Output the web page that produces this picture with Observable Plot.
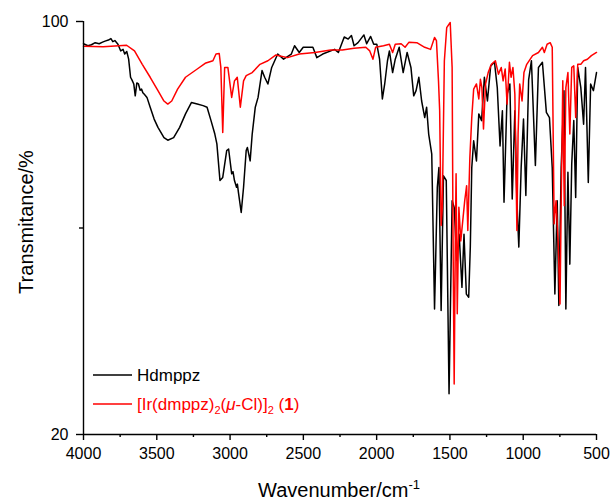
<!DOCTYPE html>
<html>
<head>
<meta charset="utf-8">
<script src="https://cdn.jsdelivr.net/npm/d3@7"></script>
<script src="https://cdn.jsdelivr.net/npm/@observablehq/plot@0.6"></script>
<style>
  body { margin: 0; background: #fff; }
  #chart svg { display: block; }
</style>
</head>
<body>
<div id="chart"></div>
<script>
// FT-IR spectra: free ligand Hdmppz (black) and the chloro-bridged Ir dimer (red)
const ligandWn = [4000,3970,3946,3920,3893,3870,3853,3830,3813,3800,3786,3765,3746,3730,3719,3705,3692,3679,3668,3657,3647,3636,3625,3614,3604,3595,3585,3567,3545,3518,3492,3451,3425,3385,3344,3304,3264,3224,3184,3157,3130,3104,3090,3069,3050,3023,3010,2989,2980,2970,2956,2950,2943,2924,2908,2890,2882,2863,2849,2828,2809,2782,2764,2742,2716,2675,2635,2582,2560,2528,2501,2435,2408,2368,2287,2261,2221,2194,2172,2154,2127,2087,2068,2041,2020,1999,1980,1961,1945,1926,1913,1891,1873,1846,1819,1792,1766,1747,1731,1712,1693,1672,1659,1645,1624,1605,1586,1575,1560,1544,1525,1506,1485,1471,1453,1437,1418,1404,1388,1372,1361,1351,1338,1319,1303,1284,1265,1244,1222,1196,1177,1158,1142,1131,1110,1091,1075,1057,1043,1030,1014,998,982,963,944,917,896,869,842,821,802,784,768,757,741,722,709,695,682,669,655,642,628,607,588,575,556,540,521,500];
const ligandT = [95.7,95.3,95.5,95.9,95.7,96.0,96.2,96.4,96.7,96.1,96.3,95.6,94.3,94.6,93.7,94.2,92.7,89.2,88.6,87.9,85.6,88.1,87.9,86.7,86.9,86.2,85.9,85.3,83.4,81.1,79.5,77.5,77.0,77.5,79.5,82.1,84.3,84.0,83.7,83.4,80.8,78.2,76.3,69.2,69.8,75.0,75.3,70.5,70.9,69.2,67.9,68.5,66.9,63.0,67.9,75.0,75.6,73.0,78.2,83.4,85.3,90.5,89.2,87.9,91.1,93.7,92.7,93.7,95.3,94.0,95.0,95.0,93.0,93.7,94.6,94.0,97.0,96.6,97.3,95.3,95.9,97.4,95.7,97.1,95.6,95.6,92.7,85.0,87.9,92.4,94.3,90.1,92.7,95.0,90.1,94.0,91.1,85.6,86.6,89.2,84.6,81.4,83.4,78.2,74.3,44.3,67.9,71.7,44.0,70.1,69.2,27.9,65.3,64.0,53.7,58.8,48.5,58.8,47.2,46.6,56.3,71.7,76.9,73.0,82.1,80.8,89.2,84.6,91.4,92.1,87.2,75.9,82.7,65.0,85.9,87.9,65.6,82.7,65.3,56.3,71.7,81.1,66.3,88.7,92.4,72.1,91.1,92.1,82.4,81.4,71.7,47.2,65.3,45.0,71.7,86.6,44.3,70.8,53.0,72.4,80.8,65.9,91.1,87.2,80.1,91.1,68.8,87.9,86.6,90.1];

const complexWn = [4000,3866,3759,3706,3652,3599,3545,3492,3451,3425,3398,3358,3304,3224,3170,3117,3096,3074,3063,3050,3037,3015,2989,2970,2951,2930,2908,2890,2849,2796,2742,2689,2608,2528,2421,2314,2234,2154,2074,2047,2025,2007,1953,1913,1891,1873,1833,1806,1779,1726,1672,1632,1605,1592,1578,1570,1560,1552,1538,1522,1498,1485,1479,1471,1463,1458,1450,1439,1426,1410,1399,1386,1378,1364,1351,1338,1319,1303,1292,1282,1271,1257,1239,1217,1190,1169,1150,1137,1123,1110,1094,1083,1070,1057,1043,1035,1024,1008,995,976,936,896,869,856,837,816,802,789,776,762,749,741,730,720,709,695,682,669,655,642,628,607,588,562,535,500];
const complexT = [95.2,95.1,95.3,95.4,94.3,91.7,89.2,86.6,84.6,84.0,84.6,86.9,89.2,90.8,91.9,92.4,93.7,93.8,91.1,78.5,91.1,91.1,85.3,88.5,89.2,83.4,88.5,89.5,90.1,91.7,92.4,93.5,93.0,93.7,94.0,94.5,94.5,94.8,95.0,94.3,92.7,95.0,95.3,95.6,94.0,95.6,95.7,95.0,96.0,95.9,95.0,94.6,96.9,96.3,88.5,82.7,60.5,64.0,92.4,98.8,99.8,91.1,58.8,29.8,58.8,70.5,43.4,64.0,57.5,62.1,65.3,68.2,59.5,73.7,81.4,86.9,87.9,85.0,88.8,87.2,79.2,87.9,90.1,91.7,92.4,89.8,91.1,88.5,90.8,84.0,92.1,89.2,91.1,85.9,59.5,78.2,87.9,84.6,90.1,91.7,93.4,94.0,95.0,94.0,95.6,95.9,95.0,60.8,65.3,57.5,45.3,64.3,88.5,64.3,87.2,90.1,78.2,91.1,91.4,81.4,91.7,91.7,92.4,92.7,93.4,94.0];

const xMajorTicks = [4000,3500,3000,2500,2000,1500,1000,500];
const xMinorTicks = [3750,3250,2750,2250,1750,1250,750];
const yMajorTicks = [20,100];
const yMinorTicks = [60];

const ligand = ligandWn.map((w, i) => ({wn: w, t: ligandT[i]}));
const complex = complexWn.map((w, i) => ({wn: w, t: complexT[i]}));

const FONT = "Arial, 'Liberation Sans', sans-serif";

const chart = Plot.plot({
  width: 616,
  height: 503,
  marginLeft: 83,
  marginRight: 20,
  marginTop: 21,
  marginBottom: 69,
  style: {fontFamily: FONT, fontSize: "16px", color: "#000", background: "#fff", overflow: "visible"},
  x: {domain: [4000, 500]},
  y: {domain: [20, 100]},
  marks: [
    Plot.line(ligand, {x: "wn", y: "t", stroke: "#000", strokeWidth: 1.5}),
    Plot.line(complex, {x: "wn", y: "t", stroke: "#ff0000", strokeWidth: 1.5}),
    Plot.ruleY([20], {stroke: "#000", strokeWidth: 1.4}),
    Plot.ruleX([4000], {stroke: "#000", strokeWidth: 1.4}),
    Plot.axisX({ticks: xMajorTicks, tickSize: 6, tickPadding: 7, tickFormat: d => String(d), label: null, strokeWidth: 1.4, fontSize: 16}),
    Plot.axisX({ticks: xMinorTicks, tickSize: 3, tickFormat: () => "", label: null, strokeWidth: 1.4}),
    Plot.axisY({ticks: yMajorTicks, tickSize: 7, tickPadding: 8, tickFormat: d => String(d), label: null, strokeWidth: 1.4, fontSize: 16}),
    Plot.axisY({ticks: yMinorTicks, tickSize: 4, tickFormat: () => "", label: null, strokeWidth: 1.4})
  ]
});

document.getElementById("chart").appendChild(chart);

// Axis titles and the in-plot legend
const svg = d3.select(chart);
svg.selectAll("text").attr("font-family", FONT);

const xTitle = svg.append("text")
  .attr("x", 339).attr("y", 497)
  .attr("text-anchor", "middle")
  .attr("font-family", FONT).attr("font-size", 20).attr("fill", "#000");
xTitle.append("tspan").text("Wavenumber/cm");
xTitle.append("tspan").attr("font-size", 13).attr("dy", -8).text("-1");

svg.append("text")
  .attr("transform", "translate(33,222) rotate(-90)")
  .attr("text-anchor", "middle")
  .attr("font-family", FONT).attr("font-size", 20).attr("fill", "#000")
  .text("Transmitance/%");

const legend = svg.append("g")
  .attr("font-family", FONT).attr("font-size", 17).attr("text-anchor", "start");
legend.append("line").attr("x1", 93).attr("x2", 132).attr("y1", 375).attr("y2", 375)
  .attr("stroke", "#000").attr("stroke-width", 1.5);
legend.append("text").attr("x", 137).attr("y", 381).attr("fill", "#000").text("Hdmppz");

legend.append("line").attr("x1", 93).attr("x2", 132).attr("y1", 404).attr("y2", 404)
  .attr("stroke", "#ff0000").attr("stroke-width", 1.5);
const lt = legend.append("text").attr("x", 137).attr("y", 410).attr("fill", "#ff0000");
lt.append("tspan").text("[Ir(dmppz)");
lt.append("tspan").attr("font-size", 11).attr("dy", 4).text("2");
lt.append("tspan").attr("dy", -4).text("(");
lt.append("tspan").attr("font-style", "italic").text("\u03bc");
lt.append("tspan").text("-Cl)]");
lt.append("tspan").attr("font-size", 11).attr("dy", 4).text("2");
lt.append("tspan").attr("dy", -4).text(" (");
lt.append("tspan").attr("font-weight", "bold").text("1");
lt.append("tspan").text(")");
</script>
</body>
</html>
